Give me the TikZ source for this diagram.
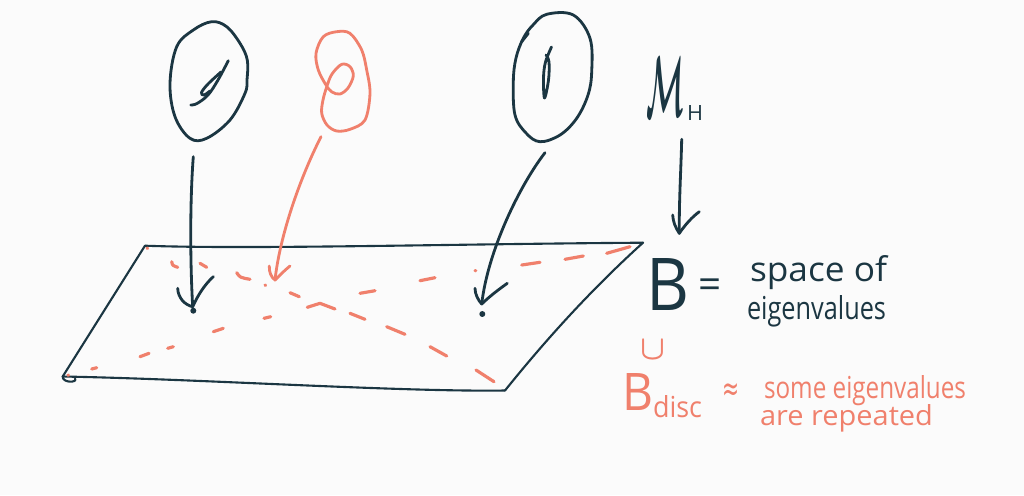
\documentclass[tikz,border=0pt]{standalone}
\usepackage{fontspec}
\setsansfont{Open Sans}
\newfontfamily\symfont{DejaVu Sans}
\usepackage{amsmath}
\usepackage{graphicx}
\newlength\pxu
\setlength\pxu{0.02cm}
\definecolor{ink}{RGB}{27,54,66}
\definecolor{salmon}{RGB}{240,128,108}
\definecolor{paper}{RGB}{251,251,251}
\begin{document}
\begin{tikzpicture}[x=0.02cm,y=-0.02cm,
  ink line/.style={draw=ink, line width=1.6pt, line cap=round, line join=round},
  edge line/.style={draw=ink, line width=1.2pt, line cap=round, line join=round},
  red line/.style={draw=salmon, line width=1.6pt, line cap=round, line join=round},
  disc dash/.style={draw=salmon, line width=1.8pt, line cap=round, line join=round},
  hand/.style={inner sep=0pt, outer sep=0pt, font=\sffamily},
  tip dot/.style={fill=ink}]

% page
\fill[paper] (0,0) rectangle (1024,495);
\useasboundingbox (0,0) rectangle (1024,495);

% ---- the three sample matrices (hand-drawn loops) ----
\draw[ink line] plot[smooth cycle, tension=0.6] coordinates {
  (211.7,21.7) (226.7,26.7) (240,43.3) (247.3,60) (247,80) (245,93.3)
  (230,120) (206.7,138.3) (190,138.3) (175,116.7) (170,83.3) (176.7,46.7) (193.3,30)};
\draw[ink line] plot[smooth, tension=0.6] coordinates {
  (190.7,105) (197,103.5) (208,95) (218,80) (228.3,60.7)};
\draw[ink line] plot[smooth, tension=0.6] coordinates {
  (221,72) (208,84) (201.5,92.5) (204,95) (210,91)};

\draw[red line] plot[smooth cycle, tension=0.55] coordinates {
  (323.3,36.7) (336.7,31.7) (350,33.3) (361.7,50) (366.7,70) (370,93.3)
  (365,120) (350,129.3) (336.7,131) (327,125) (321.7,113.3) (323,100)
  (327,86) (332,74) (341.7,64.3) (350,66.7) (353.3,76) (348,88) (340,94)
  (332,92) (326,85) (318.3,70) (316,53.3)};

\draw[ink line] plot[smooth cycle, tension=0.6] coordinates {
  (546.7,14.3) (573.3,15) (590,38.3) (591.7,71.7) (588,95) (576.7,118.3)
  (560,135) (540,141.7) (526,133) (515,115) (513.3,81.7) (516,58) (523.3,38.3) (533,25)};
\draw[ink line] (521.7,41.7) -- (528.3,33.3);
\draw[ink line] plot[smooth, tension=0.6] coordinates {
  (551.5,47) (545.5,62) (543.5,78) (544.5,98) (548.5,80) (549,62) (546,55)};

% ---- the plane B ----
\coordinate (TL) at (145,245.7);
\coordinate (TR) at (643,242.7);
\coordinate (BR) at (505,390.5);
\coordinate (BL) at (62.7,376.5);
\draw[edge line] (TL) .. controls (250,249.5) and (450,244) .. (TR);
\draw[edge line] (TR) .. controls (593,288) and (548,337) .. (BR);
\draw[edge line] (BL) .. controls (200,379) and (400,392) .. (BR);
\draw[edge line] (TL) -- (BL);
\draw[edge line] (BL) .. controls (62,383) and (78,383) .. (75,378.5);

% ---- discriminant locus (dashed, drawn stroke by stroke) ----
\draw[disc dash] (147,248) -- (147.6,248.4);
\draw[disc dash] (171.7,261.7) .. controls (172.5,265.5) .. (177.7,267.3);
\draw[disc dash] (200,263.3) -- (206.7,267.3);
\draw[disc dash] (236.7,272.7) .. controls (240,277.5) .. (250,279.3);
\draw[disc dash] (265,285) -- (265.6,285.4);
\draw[disc dash] (290,292.7) -- (299.3,296.7);
\draw[disc dash] (307.3,307.3) -- (320,303.3) -- (335,309);
\draw[disc dash] (350,313.3) -- (365,319.3);
\draw[disc dash] (386.7,326.7) -- (405,334.3);
\draw[disc dash] (430,346.7) -- (446.7,356);
\draw[disc dash] (476,370) -- (494,381.7);

\draw[disc dash] (630,246.7) -- (606.7,253.3);
\draw[disc dash] (583.3,256) -- (565,259.3);
\draw[disc dash] (540,262.3) -- (521.7,265);
\draw[disc dash] (475,270.7) -- (475.8,270.6);
\draw[disc dash] (435,277.7) -- (420,280.7);
\draw[disc dash] (375,290.7) -- (360,293.3);
\draw[disc dash] (270.7,316.7) -- (264,318.3);
\draw[disc dash] (223.3,328.3) -- (213.3,331.7);
\draw[disc dash] (173.3,346.7) -- (167.7,348.3);
\draw[disc dash] (149,353.3) -- (140,356.7);
\draw[disc dash] (96.7,367.7) -- (91.7,369);
\draw[disc dash] (68,375) -- (68.6,375.3);

% ---- arrows from the matrices to their eigenvalue points ----
\coordinate (e1) at (193.3,156.7);
\coordinate (t1) at (192.7,306.7);
\coordinate (p1) at (193.3,310.7);
\draw[ink line] (e1) .. controls (190,200) and (190,260) .. (t1);
\draw[ink line] (t1) .. controls (185,305) and (178,298) .. (177.7,288.3);
\draw[ink line] (t1) .. controls (197,297) and (204,285) .. (213.3,276.7);
\fill[tip dot] (p1) circle (1.7pt);

\coordinate (e2) at (321,136.7);
\coordinate (p2) at (275,280);
\draw[red line] (e2) .. controls (300,178) and (280,235) .. (p2);
\draw[red line] (p2) .. controls (271,277) and (269,272) .. (269.3,266);
\draw[red line] (p2) .. controls (280,275) and (285,270) .. (290,266);

\coordinate (e3) at (545,152.7);
\coordinate (t3) at (481.7,304);
\coordinate (p3) at (482.3,314);
\draw[ink line] (e3) .. controls (520,185) and (488,250) .. (t3);
\draw[ink line] (t3) .. controls (478,300) and (475,294) .. (475,288.3);
\draw[ink line] (t3) .. controls (490,296) and (498,290) .. (507.3,283.3);
\fill[tip dot] (p3) circle (1.7pt);

% ---- labels ----
\node[hand, text=ink, anchor=base west] (MH) at (646,116)
  {\resizebox{38\pxu}{59\pxu}{$\boldsymbol{\mathcal{M}}$}\hspace{3\pxu}\raisebox{-4\pxu}{\resizebox{16\pxu}{15\pxu}{H}}};
\coordinate (mtail) at (681.7,139.3);
\coordinate (mtip) at (679.3,233.3);
\draw[ink line] (mtail) .. controls (681,170) and (679,200) .. (mtip);
\draw[ink line] (mtip) .. controls (675,227) and (673,221) .. (672.7,215);
\draw[ink line] (mtip) .. controls (685,225) and (692,217) .. (699.3,211.7);

\node[hand, text=ink, anchor=base west] (B) at (646,310) {\resizebox{43\pxu}{52\pxu}{B}};
\node[hand, text=ink] (eq) at (710,289) {\fontsize{23}{23}\selectfont =};
\node[hand, text=ink, anchor=base west] (desc1) at (750,281) {\resizebox{137\pxu}{26\pxu}{space of}};
\node[hand, text=ink, anchor=base west] (desc2) at (747,319) {\resizebox{139\pxu}{24\pxu}{eigenvalues}};

\node[hand, text=salmon] (sub) at (652.5,349.5) {\resizebox{25\pxu}{19\pxu}{$\boldsymbol{\cup}$}};
\node[hand, text=salmon, anchor=base west] (Bd) at (622,410)
  {\resizebox{31\pxu}{37\pxu}{B}\raisebox{-7\pxu}{\resizebox{49\pxu}{22\pxu}{disc}}};
\node[hand, text=salmon] (approx) at (731,392) {\resizebox{17\pxu}{17\pxu}{\symfont ≈}};
\node[hand, text=salmon, anchor=base west] (rep1) at (764,398)
  {\resizebox{202\pxu}{23\pxu}{\smash[b]{some eigenvalues}}};
\node[hand, text=salmon, anchor=base west] (rep2) at (760,425) {\resizebox{173\pxu}{21\pxu}{are repeated}};
\end{tikzpicture}
\end{document}
